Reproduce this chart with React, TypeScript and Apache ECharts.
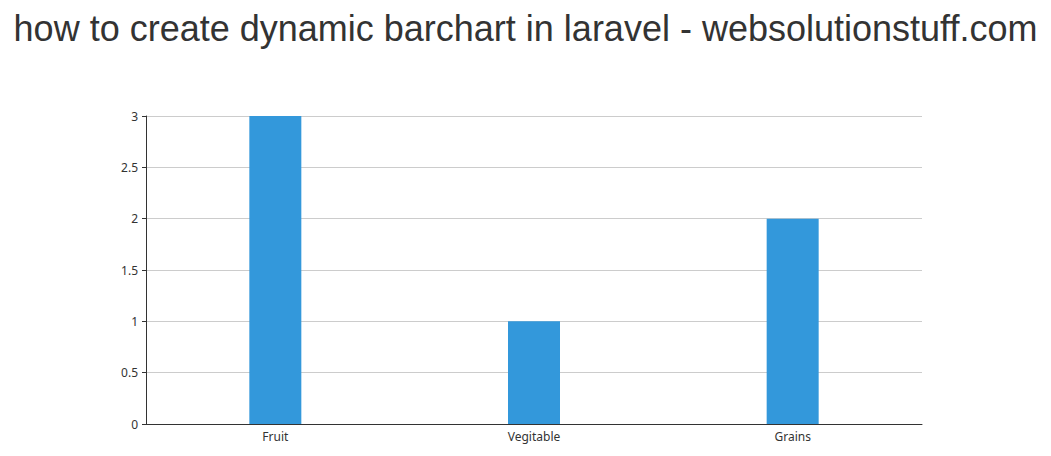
import React, { useEffect, useRef } from "react";
import * as echarts from "echarts";

const titleText = "how to create dynamic barchart in laravel - websolutionstuff.com";
const categories = ["Fruit", "Vegitable", "Grains"];
const values = [3, 1, 2];

export default function App() {
  const ref = useRef<HTMLDivElement>(null);
  useEffect(() => {
    document.body.style.margin = "0";
    if (!ref.current) return;
    const chart = echarts.init(ref.current, null, { renderer: "svg" });
    chart.setOption({
      animation: false,
      title: {
        text: titleText,
        left: "center",
        top: 5,
        textStyle: {
          fontFamily: "Liberation Sans, Arial, sans-serif",
          fontSize: 36,
          fontWeight: "normal",
          color: "#333333",
        },
      },
      grid: { left: 146, right: 129, top: 116, bottom: 32, containLabel: false },
      xAxis: {
        type: "category",
        data: categories,
        axisLine: { lineStyle: { color: "#333333", width: 1 } },
        axisTick: { alignWithLabel: true, length: 4, lineStyle: { color: "#333333" } },
        axisLabel: { color: "#333333", fontSize: 12, fontFamily: "Noto Sans, sans-serif", margin: 6 },
      },
      yAxis: {
        type: "value",
        min: 0,
        max: 3,
        interval: 0.5,
        axisLine: { show: true, lineStyle: { color: "#333333", width: 1 } },
        axisTick: { show: true, length: 4, lineStyle: { color: "#333333" } },
        axisLabel: { color: "#333333", fontSize: 12, fontFamily: "Noto Sans, sans-serif", margin: 8 },
        splitLine: { lineStyle: { color: "#cccccc" } },
      },
      series: [
        {
          type: "bar",
          data: values,
          barWidth: 52,
          itemStyle: { color: "#3398DB" },
        },
      ],
    });
    return () => chart.dispose();
  }, []);
  return <div ref={ref} style={{ width: 1051, height: 456 }} />;
}
